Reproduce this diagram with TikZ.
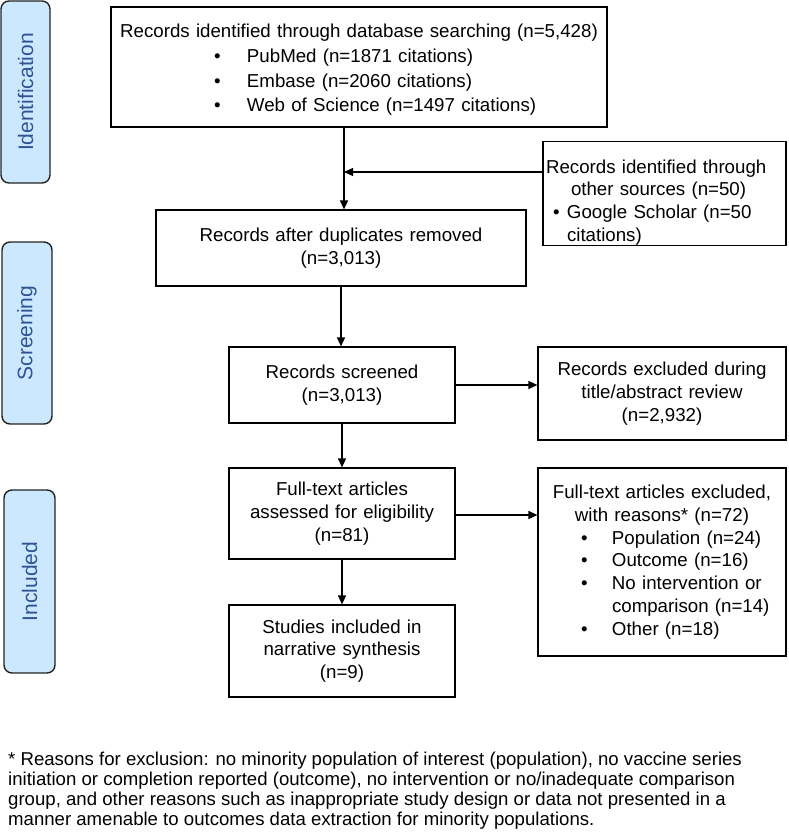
\documentclass[tikz,border=0pt]{standalone}
\usepackage{fontspec}
\setmainfont{Liberation Sans}
\usetikzlibrary{arrows.meta}
\definecolor{lblfill}{RGB}{204,232,255}
\definecolor{lbltext}{RGB}{47,84,150}
\definecolor{lbldraw}{RGB}{35,35,35}
\newcommand\fs{\fontsize{18.7}{22.8}\selectfont}
\newcommand\ffs{\fontsize{18.6}{21}\selectfont}
\newcommand\lfs{\fontsize{21}{22}\selectfont}
\tikzset{
  box/.style={draw=black, line width=1.2pt, inner sep=0pt, font=\fs},
  lbl/.style={draw=lbldraw, fill=lblfill, line width=1.4pt, rounded corners=8pt,
              inner sep=0pt, rotate=90, font=\lfs, text=lbltext},
  arr/.style={line width=1.3pt, -{Triangle[length=9pt,width=8pt]}},
}
\begin{document}
\begin{tikzpicture}[x=1pt,y=-1pt]
\useasboundingbox (0,0) rectangle (788,835);

% stage labels
\node[lbl, minimum width=182pt, minimum height=49pt] (lid) at (25.5,92) {Identification};
\node[lbl, minimum width=182pt, minimum height=50pt] (lsc) at (27,333) {Screening};
\node[lbl, minimum width=183pt, minimum height=51pt] (lin) at (29.5,581.5) {Included};

% boxes
\node[box, text width=496pt, minimum height=120pt, align=left] (b1) at (359,67)
  {\rule{0pt}{19.6pt}\makebox[496pt][c]{Records identified through database searching (n=5,428)}\\[1.8pt]
   \hspace*{103pt}\makebox[33pt][l]{•}PubMed (n=1871 citations)\\[1.8pt]
   \hspace*{103pt}\makebox[33pt][l]{•}Embase (n=2060 citations)\\[1.8pt]
   \hspace*{103pt}\makebox[33pt][l]{•}Web of Science (n=1497 citations)};

\node[box, text width=243pt, minimum height=101pt, align=left] (oth) at (664.5,193.5)
  {\rule{0pt}{31.4pt}\hspace*{3pt}Records identified through\\
   \hspace*{28pt}other sources (n=50)\\
   \hspace*{10pt}\makebox[14pt][l]{•}Google Scholar (n=50\\
   \hspace*{24pt}citations)};

\node[box, text width=370pt, minimum height=76pt, align=center] (b2) at (341,248)
  {Records after duplicates removed\\(n=3,013)};

\node[box, text width=226pt, minimum height=76pt, align=center] (b3) at (342,385)
  {Records screened\\(n=3,013)};

\node[box, text width=248pt, minimum height=93pt, align=center] (b4) at (662,393.5)
  {Records excluded during\\title/abstract review\\(n=2,932)};

\node[box, text width=226pt, minimum height=91pt, align=center] (b5) at (342,513.5)
  {Full-text articles\\assessed for eligibility\\(n=81)};

\node[box, text width=248pt, minimum height=188pt, align=left] (b6) at (662,562)
  {\makebox[248pt][c]{Full-text articles excluded,}\\
   \makebox[248pt][c]{with reasons* (n=72)}\\
   \hspace*{43pt}\makebox[31pt][l]{•}Population (n=24)\\
   \hspace*{43pt}\makebox[31pt][l]{•}Outcome (n=16)\\
   \hspace*{43pt}\makebox[31pt][l]{•}No intervention or\\
   \hspace*{74pt}comparison (n=14)\\
   \hspace*{43pt}\makebox[31pt][l]{•}Other (n=18)};

\node[box, text width=226pt, minimum height=92pt, align=center] (b7) at (342,651)
  {Studies included in\\narrative synthesis\\(n=9)};

% connectors
\coordinate (m1) at (344,0);
\coordinate (j) at (344,172);
\coordinate (m2) at (341,0);
\coordinate (h5) at (0,515);
\draw[arr] (b1.south -| m1) -- (b2.north -| m1);
\draw[arr] (oth.west |- j) -- (j);
\draw[arr] (b2.south -| m2) -- (b3.north -| m2);
\draw[arr] (b3.east) -- (b4.west |- b3.east);
\draw[arr] (b3.south) -- (b5.north);
\draw[arr] (b5.east |- h5) -- (b6.west |- h5);
\draw[arr] (b5.south) -- (b7.north);

% footnote
\node[anchor=north west, align=left, inner sep=0pt, font=\ffs] (fn) at (8,752)
  {* Reasons for exclusion: no minority population of interest (population), no vaccine series\\[-1.2pt]
   initiation or completion reported (outcome), no intervention or no/inadequate comparison\\[-1.2pt]
   group, and other reasons such as inappropriate study design or data not presented in a\\[-1.2pt]
   manner amenable to outcomes data extraction for minority populations.};
\end{tikzpicture}
\end{document}
